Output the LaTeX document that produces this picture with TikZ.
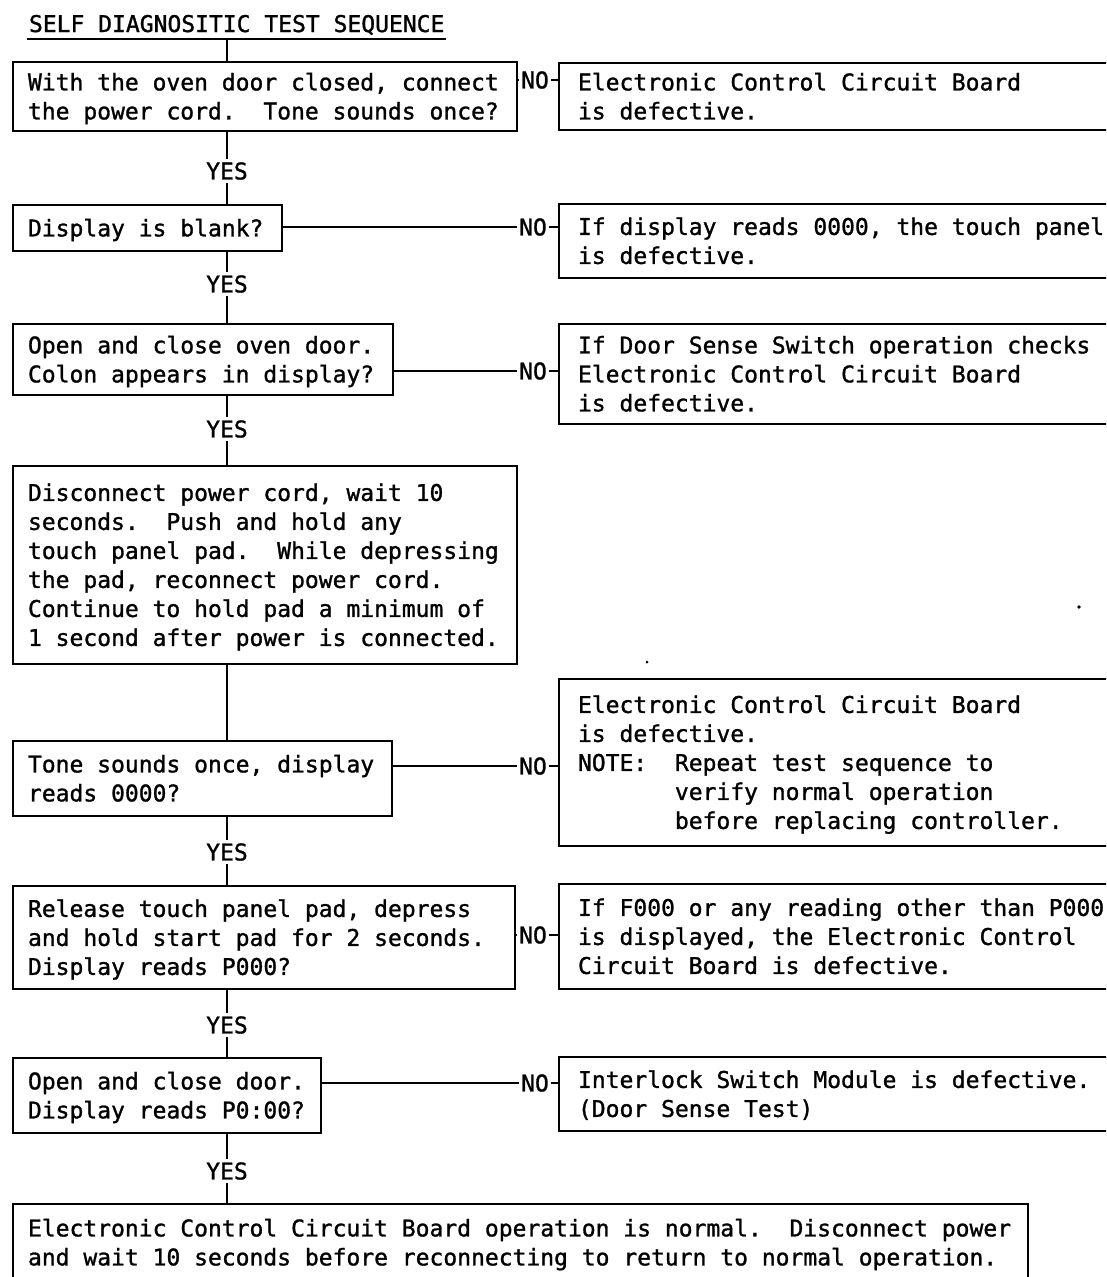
\documentclass[tikz,border=0pt]{standalone}
\usepackage{fontspec}
\newfontfamily\typew[FakeBold=1.2]{DejaVu Sans Mono}
\newcommand\fsp{\spaceskip=\fontdimen2\font\relax\xspaceskip=\fontdimen2\font\relax}
\begin{document}
\begin{tikzpicture}[x=1pt,y=-1pt,line width=2pt,
  every node/.style={font=\typew\fontsize{23}{29}\selectfont\frenchspacing},
  boxbase/.style={draw, line width=2pt, anchor=north west, align=left, inner ysep=0pt, text height=22.9pt},
  lbox/.style={boxbase, inner xsep=15pt},
  rbox/.style={boxbase, inner xsep=19pt, text width=534pt},
  yeslbl/.style={inner xsep=0pt, inner ysep=3pt, text height=16.8pt, text depth=0pt},
  nolbl/.style={inner xsep=1pt, inner ysep=0pt, text height=16.8pt, text depth=0pt},
]
\useasboundingbox (0,0) rectangle (1106,1277);
\fill[white] (0,0) rectangle (1106,1277);
\clip (0,0) rectangle (1106,1277);

% title
\node[anchor=base west, inner sep=0pt] (title) at (28,32) {SELF DIAGNOSITIC TEST SEQUENCE};
\coordinate (ulL) at ([xshift=-1pt,yshift=-7pt]title.base west);
\coordinate (ulR) at ([xshift=1pt,yshift=-7pt]title.base east);
\draw (ulL) -- (ulR);
\coordinate (sp) at (227,0);

% left (main) boxes
\node[lbox, text width=474pt, minimum height=69pt, text depth=35.1pt] (b1) at (12,61)
  {\fsp With the oven door closed, connect\\the power cord.~~Tone sounds once?};
\node[lbox, text width=239pt, minimum height=46pt, text depth=6.1pt] (b2) at (12,204)
  {\fsp Display is blank?};
\node[lbox, text width=350pt, minimum height=71pt, text depth=35.1pt] (b3) at (12,323)
  {\fsp Open and close oven door.\\Colon appears in display?};
\node[lbox, text width=474pt, minimum height=198pt, text depth=151.1pt] (b4) at (12,465)
  {\fsp Disconnect power cord, wait 10\\seconds.~~Push and hold any\\touch panel pad.~~While depressing\\the pad, reconnect power cord.\\Continue to hold pad a minimum of\\1 second after power is connected.};
\node[lbox, text width=349pt, minimum height=75pt, text depth=35.1pt] (b5) at (12,740)
  {\fsp Tone sounds once, display\\reads 0000?};
\node[lbox, text width=472pt, minimum height=103pt, text depth=64.1pt] (b6) at (12,885)
  {\fsp Release touch panel pad, depress\\and hold start pad for 2 seconds.\\Display reads P000?};
\node[lbox, text width=278pt, minimum height=75pt, text depth=35.1pt] (b7) at (12,1057)
  {\fsp Open and close door.\\Display reads P0:00?};
\node[lbox, text width=985pt, minimum height=77pt, text depth=35.1pt] (b8) at (12,1203)
  {\fsp Electronic Control Circuit Board operation is normal.~~Disconnect power\\and wait 10 seconds before reconnecting to return to normal operation.};

% right (result) boxes
\node[rbox, minimum height=67pt, text depth=35.1pt] (r1) at (558,62)
  {\fsp Electronic Control Circuit Board\\is defective.};
\node[rbox, minimum height=74pt, text depth=35.1pt] (r2) at (558,203)
  {\fsp If display reads 0000, the touch panel\\is defective.};
\node[rbox, minimum height=100pt, text depth=64.1pt] (r3) at (558,323)
  {\fsp If Door Sense Switch operation checks\\Electronic Control Circuit Board\\is defective.};
\node[rbox, minimum height=167pt, text depth=122.1pt] (r5) at (558,678)
  {\fsp Electronic Control Circuit Board\\is defective.\\NOTE:~~Repeat test sequence to\\\phantom{NOTE:~~}verify normal operation\\\phantom{NOTE:~~}before replacing controller.};
\node[rbox, minimum height=105pt, text depth=64.1pt] (r6) at (558,883)
  {\fsp If F000 or any reading other than P000\\is displayed, the Electronic Control\\Circuit Board is defective.};
\node[rbox, minimum height=74pt, text depth=35.1pt] (r7) at (558,1056)
  {\fsp Interlock Switch Module is defective.\\(Door Sense Test)};

% YES labels
\node[yeslbl] (y1) at (227,171) {YES};
\node[yeslbl] (y2) at (227,284) {YES};
\node[yeslbl] (y3) at (227,429) {YES};
\node[yeslbl] (y5) at (227,852) {YES};
\node[yeslbl] (y6) at (227,1025) {YES};
\node[yeslbl] (y7) at (227,1171) {YES};

% NO labels
\node[nolbl] (n1) at (535,80) {NO};
\node[nolbl] (n2) at (533,227) {NO};
\node[nolbl] (n3) at (533,371) {NO};
\node[nolbl] (n5) at (533,766) {NO};
\node[nolbl] (n6) at (533,935) {NO};
\node[nolbl] (n7) at (535,1083) {NO};

% main spine
\draw (ulL -| sp) -- (b1.north -| sp);
\draw (b1.south -| sp) -- (y1.north);
\draw (y1.south) -- (b2.north -| sp);
\draw (b2.south -| sp) -- (y2.north);
\draw (y2.south) -- (b3.north -| sp);
\draw (b3.south -| sp) -- (y3.north);
\draw (y3.south) -- (b4.north -| sp);
\draw (b4.south -| sp) -- (b5.north -| sp);
\draw (b5.south -| sp) -- (y5.north);
\draw (y5.south) -- (b6.north -| sp);
\draw (b6.south -| sp) -- (y6.north);
\draw (y6.south) -- (b7.north -| sp);
\draw (b7.south -| sp) -- (y7.north);
\draw (y7.south) -- (b8.north -| sp);

% NO branches
\draw (b1.east |- n1) -- (n1.west);  \draw (n1.east) -- (r1.west |- n1);
\draw (b2.east |- n2) -- (n2.west);  \draw (n2.east) -- (r2.west |- n2);
\draw (b3.east |- n3) -- (n3.west);  \draw (n3.east) -- (r3.west |- n3);
\draw (b5.east |- n5) -- (n5.west);  \draw (n5.east) -- (r5.west |- n5);
\draw (b6.east |- n6) -- (n6.west);  \draw (n6.east) -- (r6.west |- n6);
\draw (b7.east |- n7) -- (n7.west);  \draw (n7.east) -- (r7.west |- n7);

% stray specks in the print
\fill (647,662) circle (1.5);
\fill (1079,607) circle (1.8);
\end{tikzpicture}
\end{document}
